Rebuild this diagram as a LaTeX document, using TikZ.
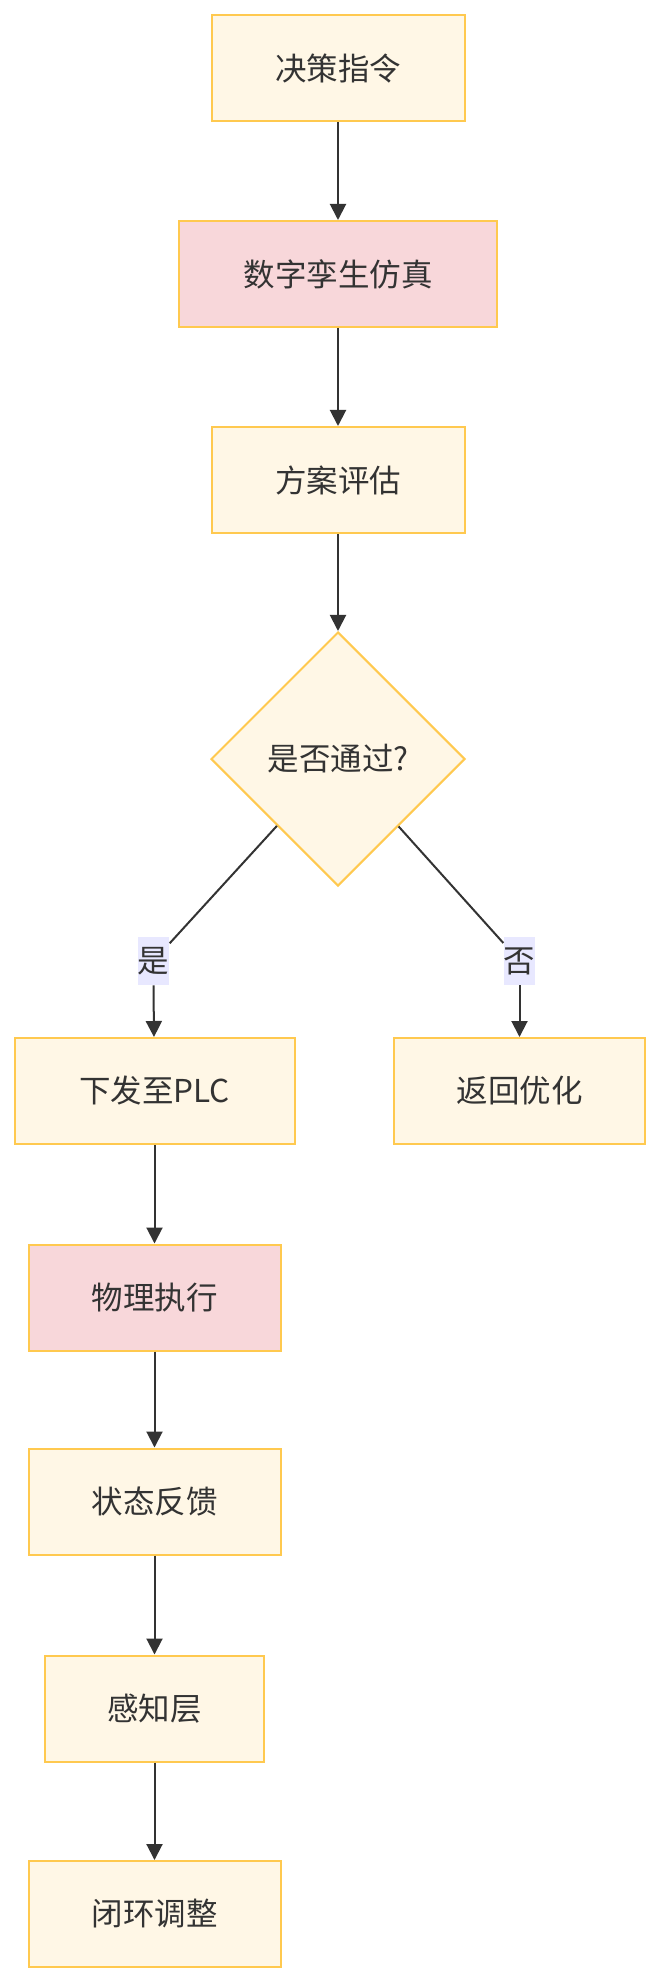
\documentclass[tikz,border=0pt]{standalone}
\usepackage{fontspec}
\setmainfont{Noto Sans CJK SC}
\usepackage{tikz}
\usetikzlibrary{arrows.meta, shapes.geometric}

\definecolor{boxfill}{HTML}{FFF7E6}
\definecolor{boxline}{HTML}{FFC94F}
\definecolor{pinkfill}{HTML}{F8D7DA}
\definecolor{labelfill}{HTML}{E8E8FF}
\definecolor{ink}{HTML}{333333}

\begin{document}
\begin{tikzpicture}[x=0.5pt, y=-0.5pt,
  every node/.style={text=ink, font=\fontsize{15.75pt}{18pt}\selectfont},
  stepbox/.style={draw=boxline, fill=boxfill, line width=1pt, minimum height=53pt, inner sep=0pt},
  hotbox/.style={stepbox, fill=pinkfill},
  decision/.style={diamond, draw=boxline, fill=boxfill, line width=1pt, minimum size=127pt, inner sep=0pt},
  edgelabel/.style={fill=labelfill, minimum width=14pt, minimum height=24pt, inner sep=0pt},
  link/.style={draw=ink, line width=1pt},
  flow/.style={link, -{Triangle[length=8pt, width=8pt]}}]
  \useasboundingbox (0,0) rectangle (664,1984);

  % Main chain
  \node[stepbox, minimum width=126.5pt] (order) at (338,68.5) {决策指令};
  \node[hotbox, minimum width=159pt] (twin) at (338,274) {数字孪生仿真};
  \node[stepbox, minimum width=126.5pt] (eval) at (338,480) {方案评估};
  \node[decision] (pass) at (338,759) {是否通过?};

  % Branches
  \node[edgelabel] (yes) at (153.5,961) {是};
  \node[edgelabel] (no) at (519.5,961) {否};
  \node[stepbox, minimum width=140pt] (plc) at (154.5,1091) {下发至PLC};
  \node[stepbox, minimum width=125.5pt] (back) at (519.5,1091) {返回优化};
  \node[hotbox, minimum width=126pt] (act) at (154.5,1297.5) {物理执行};
  \node[stepbox, minimum width=126pt] (state) at (154.5,1501.5) {状态反馈};
  \node[stepbox, minimum width=109.5pt] (sense) at (154.5,1708.5) {感知层};
  \node[stepbox, minimum width=126pt] (loop) at (154.5,1914) {闭环调整};

  % Connectors
  \draw[flow] (order) -- (twin);
  \draw[flow] (twin) -- (eval);
  \draw[flow] (eval) -- (pass);
  \draw[link] (pass) -- (yes);
  \draw[link] (pass) -- (no);
  \draw[flow] (yes.south) -- (plc);
  \draw[flow] (no.south) -- (back);
  \draw[flow] (plc) -- (act);
  \draw[flow] (act) -- (state);
  \draw[flow] (state) -- (sense);
  \draw[flow] (sense) -- (loop);
\end{tikzpicture}
\end{document}
